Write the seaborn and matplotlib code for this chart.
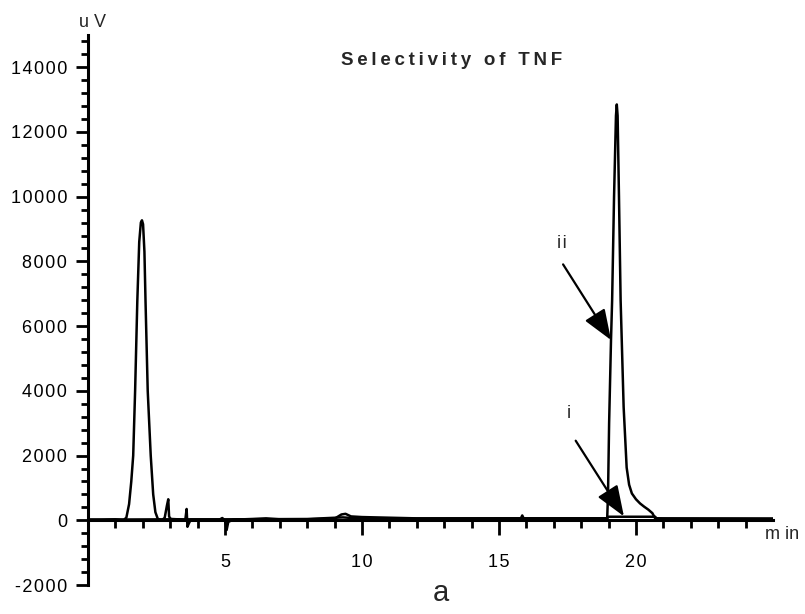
import matplotlib
matplotlib.use("Agg")
import matplotlib.pyplot as plt
import seaborn as sns
import pandas as pd
from matplotlib.ticker import FuncFormatter

# ---- data ----
time_ii = [0.0, 0.5, 1.0, 1.3, 1.4, 1.5, 1.58, 1.65, 1.72, 1.8, 1.87, 1.93, 1.97, 2.01,
           2.06, 2.1, 2.18, 2.29, 2.38, 2.46, 2.55, 2.7, 2.8, 2.88, 2.93, 2.96, 3.0,
           3.05, 3.3, 3.55, 3.6, 3.63, 3.68, 3.75, 4.5, 4.8, 4.9, 5.0, 5.06, 5.12,
           5.3, 6.0, 6.5, 7.0, 8.0, 9.0, 9.25, 9.4, 9.6, 10.0, 12.0, 15.0, 15.8,
           15.85, 15.9, 18.5, 18.95, 18.98, 19.02, 19.09, 19.13, 19.2, 19.27, 19.3, 19.33,
           19.38, 19.44, 19.48, 19.55, 19.66, 19.75, 19.85, 20.0, 20.15, 20.3, 20.45,
           20.6, 20.7, 21.0, 23.0, 25.0]
signal_ii = [20, 20, 30, 10, 80, 500, 1200, 2000, 4000, 6770, 8600, 9200, 9270, 9150,
             8300, 6770, 4000, 2000, 800, 250, 40, 0, 80, 450, 650, 120, 60,
             40, 30, 0, 350, -200, -100, 20, 20, 20, 70, 0, -300, -50,
             20, 40, 60, 30, 30, 50, 180, 200, 120, 100, 60, 60, 60,
             150, 60, 60, 60, 800, 3000, 5600, 6800, 10000, 12500, 12850, 12500,
             10000, 6800, 5600, 3500, 1630, 1100, 830, 650, 520, 420, 330,
             220, 60, 50, 50, 50]

time_i = [0.0, 3.0, 5.0, 8.0, 9.3, 10.0, 15.0, 18.95, 19.0, 20.7, 20.75, 25.0]
signal_i = [20, 30, 30, 40, 90, 50, 60, 60, 110, 110, 60, 50]

x_major = [5, 10, 15, 20]
x_minor = [1, 2, 3, 4, 6, 7, 8, 9, 11, 12, 13, 14, 16, 17, 18, 19, 21, 22, 23, 24]
y_major = [-2000, 0, 2000, 4000, 6000, 8000, 10000, 12000, 14000]
y_minor = [v for v in range(-2000, 15000, 400) if v % 2000 != 0]

df = pd.concat([
    pd.DataFrame({"time": time_ii, "signal": signal_ii, "trace": "ii"}),
    pd.DataFrame({"time": time_i, "signal": signal_i, "trace": "i"}),
])

sns.set_style("white")
plt.rcParams["font.family"] = ["Liberation Sans", "DejaVu Sans"]

fig = plt.figure(figsize=(8.05, 6.14), dpi=100)
ax = fig.add_axes([0.1093, 0.0472, 0.8509, 0.896])

sns.lineplot(data=df, x="time", y="signal", units="trace", estimator=None,
             sort=False, color="black", lw=1.8, ax=ax, legend=False)

ax.set_xlim(0, 25)
ax.set_ylim(-2000, 15000)
for s in ["top", "right"]:
    ax.spines[s].set_visible(False)
ax.spines["bottom"].set_position(("data", 0))
ax.spines["bottom"].set_linewidth(2.2)
ax.spines["left"].set_linewidth(2.2)
ax.spines["bottom"].set_color("black")
ax.spines["left"].set_color("black")

spaced = FuncFormatter(lambda v, p: "\u200a".join(str(int(v))))
ax.set_xticks(x_major)
ax.set_xticks(x_minor, minor=True)
ax.set_yticks(y_major)
ax.set_yticks(y_minor, minor=True)
ax.xaxis.set_major_formatter(spaced)
ax.yaxis.set_major_formatter(spaced)
ax.tick_params(axis="x", which="both", bottom=True, top=False, color="black")
ax.tick_params(axis="y", which="both", left=True, right=False, color="black")
ax.tick_params(axis="x", which="major", direction="out", length=11, width=2.0,
               pad=13, labelsize=13, labelcolor="black")
ax.tick_params(axis="x", which="minor", direction="out", length=6, width=2.0)
ax.tick_params(axis="y", which="major", direction="out", length=9, width=2.0,
               pad=6, labelsize=13, labelcolor="black")
ax.tick_params(axis="y", which="minor", direction="out", length=5, width=2.0)
ax.set_xlabel("")
ax.set_ylabel("")

fig.text(0.5615, 0.9007, "\u2009".join("Selectivity of TNF"), ha="center", va="center",
         fontsize=13.5, fontweight="bold")
fig.text(0.1155, 0.963, "u V", ha="center", va="center", fontsize=13)
fig.text(0.950, 0.1287, "m in", ha="left", va="center", fontsize=13)
fig.text(0.548, 0.034, "a", ha="center", va="center", fontsize=21)

arrow = dict(arrowstyle="-|>,head_length=0.47,head_width=0.18", mutation_scale=40,
             lw=1.6, color="black", shrinkA=0, shrinkB=0)
ax.annotate("", xy=(19.09, 5570), xytext=(17.34, 7908), arrowprops=arrow)
ax.annotate("", xy=(19.56, 123), xytext=(17.8, 2460), arrowprops=arrow)
ax.text(17.3, 8550, "i\u200ai", ha="center", va="center", fontsize=13)
ax.text(17.55, 3290, "i", ha="center", va="center", fontsize=13)

fig.savefig("out.png", dpi=100)
